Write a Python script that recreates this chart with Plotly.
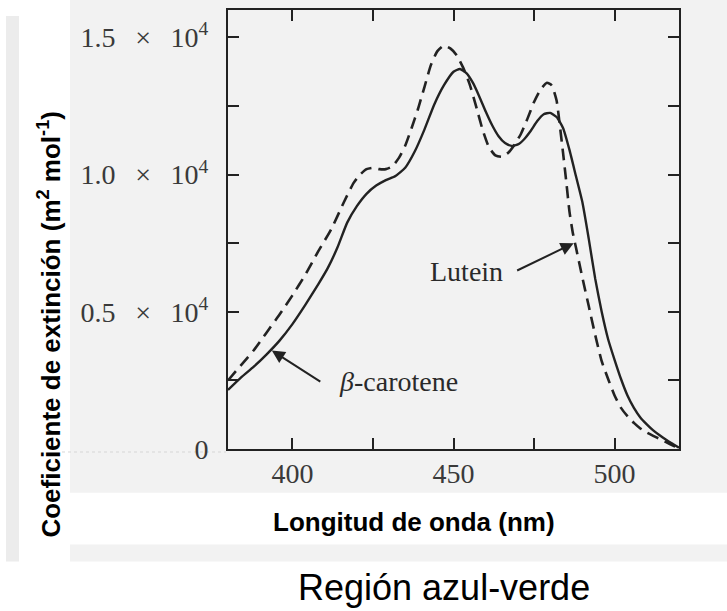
import plotly.graph_objects as go

# ---------------- data ----------------
lutein_nm = [380, 384, 388, 392, 396, 400, 404, 408, 411, 414, 417, 420, 423, 426, 429, 432,
             435, 438, 441, 444, 447, 450, 452, 454, 456, 458, 460, 462, 464, 466, 468, 470,
             472, 474, 476, 478, 480, 482, 484, 486, 488, 490, 492, 494, 496, 498, 500, 502,
             504, 506, 508, 510, 512, 514, 516, 518, 520]
lutein_val = [2150, 2600, 3000, 3450, 3950, 4550, 5250, 6000, 6600, 7350, 8250, 8850, 9300, 9600,
              9800, 9950, 10250, 10850, 11650, 12550, 13250, 13750, 13850, 13700, 13350, 12850,
              12300, 11800, 11400, 11150, 11050, 11100, 11300, 11600, 11950, 12200, 12250, 12100,
              11700, 10900, 9950, 9000, 7650, 6200, 5000, 4000, 3250, 2550, 1950, 1500, 1150, 900,
              680, 500, 340, 190, 50]

carotene_nm = [380, 384, 388, 392, 396, 400, 404, 408, 412, 416, 419, 421, 423, 425, 427, 429,
               431, 433, 435, 437, 439, 441, 443, 445, 447, 449, 451, 453, 455, 457, 459, 461,
               463, 465, 467, 469, 471, 473, 475, 477, 479, 480.5, 482, 483, 484, 485, 486, 487,
               488, 490, 492, 494, 496, 498, 500, 502, 504, 506, 508, 510, 512, 514, 516, 518, 520]
carotene_val = [2500, 3050, 3600, 4250, 4900, 5600, 6350, 7200, 8000, 9000, 9700, 10000, 10200,
                10250, 10200, 10200, 10300, 10600, 11050, 11700, 12400, 13200, 14000, 14500, 14700,
                14600, 14350, 13900, 13300, 12500, 11650, 11000, 10700, 10650, 10800, 11100, 11500,
                12050, 12650, 13100, 13350, 13250, 12700, 11800, 10800, 9750, 8650, 7900, 7350,
                6250, 5200, 4150, 3200, 2550, 1950, 1500, 1200, 950, 750, 600, 480, 370, 250, 130, 20]

x_tickvals = [400, 450, 500]
x_ticktext = ["400", "450", "500"]
x_minor_step = 25
y_tickvals = [0, 5000, 10000, 15000]
gap = "\u2002\u2009"
y_ticktext = ["0",
              f"0.5{gap}×{gap}10<sup>4</sup>",
              f"1.0{gap}×{gap}10<sup>4</sup>",
              f"1.5{gap}×{gap}10<sup>4</sup>"]
y_minor_step = 2500

# ---------------- figure ----------------
W, H = 727, 611
L, R, T, B = 228, 48, 8, 162
pw, ph = W - L - R, H - T - B


def px(xp):  # pixel x -> paper x
    return (xp - L) / pw


def py(yp):  # pixel y -> paper y
    return (H - B - yp) / ph


ink = "#222222"
fig = go.Figure()
fig.add_trace(go.Scatter(x=carotene_nm, y=carotene_val, mode="lines", name="β-carotene",
                         line=dict(color=ink, width=2.6, dash="12px,7px", shape="spline",
                                   smoothing=0.5)))
fig.add_trace(go.Scatter(x=lutein_nm, y=lutein_val, mode="lines", name="Lutein",
                         line=dict(color=ink, width=2.4, shape="spline", smoothing=0.5)))

grey = "#f2f2f2"
shapes = [
    dict(type="rect", xref="paper", yref="paper", x0=px(70), x1=px(W + 2), y0=py(493), y1=py(-2),
         fillcolor=grey, line=dict(width=0), layer="below"),
    dict(type="rect", xref="paper", yref="paper", x0=px(70), x1=px(W + 2), y0=py(562), y1=py(545),
         fillcolor=grey, line=dict(width=0), layer="below"),
    dict(type="rect", xref="paper", yref="paper", x0=px(6), x1=px(19), y0=py(562), y1=py(14),
         fillcolor="#ececec", line=dict(width=0), layer="below"),
    dict(type="line", xref="paper", yref="paper", x0=px(62), x1=px(226), y0=py(452), y1=py(452),
         line=dict(color="#d6d6d6", width=1, dash="dot"), layer="below"),
]

serif = "Liberation Serif"
sans = "Liberation Sans"
annotations = [
    dict(text="<b>Coeficiente de extinción (m<sup>2</sup> mol<sup>-1</sup>)</b>", textangle=-90,
         xref="paper", yref="paper", x=px(50), y=py(324), showarrow=False,
         font=dict(family=sans, size=26, color="#000"), xanchor="center", yanchor="middle"),
    dict(text="<b>Longitud de onda (nm)</b>", xref="paper", yref="paper", x=px(414), y=py(522),
         showarrow=False, font=dict(family=sans, size=26, color="#000"),
         xanchor="center", yanchor="middle"),
    dict(text="Región azul-verde", xref="paper", yref="paper", x=px(444), y=py(588),
         showarrow=False, font=dict(family=sans, size=36, color="#000"),
         xanchor="center", yanchor="middle"),
    dict(text="Lutein", x=453.9, y=6460, showarrow=False,
         font=dict(family=serif, size=28, color="#2a2a2a"), xanchor="center", yanchor="middle"),
    dict(text="<i>β</i>-carotene", x=432.8, y=2470, showarrow=False,
         font=dict(family=serif, size=28, color="#2a2a2a"), xanchor="center", yanchor="middle"),
    dict(text="", x=487.3, y=7500, ax=-58, ay=28, showarrow=True, arrowhead=2, arrowsize=1.3,
         arrowwidth=2, arrowcolor=ink),
    dict(text="", x=393.6, y=3590, ax=50, ay=32, showarrow=True, arrowhead=2, arrowsize=1.3,
         arrowwidth=2, arrowcolor=ink),
]

tick_style = dict(ticks="inside", ticklen=11, tickwidth=2, tickcolor=ink)
axis_common = dict(showgrid=False, zeroline=False, showline=True, linecolor=ink, linewidth=2,
                   mirror="ticks", tickfont=dict(family=serif, size=28, color="#3a3a3a"),
                   **tick_style)

fig.update_layout(
    width=W, height=H, margin=dict(l=L, r=R, t=T, b=B, pad=0),
    paper_bgcolor="white", plot_bgcolor="#f5f5f5", showlegend=False,
    xaxis=dict(range=[380, 520], tickvals=x_tickvals, ticktext=x_ticktext,
               minor=dict(dtick=x_minor_step, tick0=400, showgrid=False, **tick_style),
               ticklabelstandoff=-2, **axis_common),
    yaxis=dict(range=[0, 16000], tickvals=y_tickvals, ticktext=y_ticktext,
               minor=dict(dtick=y_minor_step, tick0=0, showgrid=False, **tick_style),
               ticklabelstandoff=12, **axis_common),
    shapes=shapes, annotations=annotations,
)

fig.write_html("out.html", config={"displayModeBar": False},
               post_script="document.body.style.margin='0';")
